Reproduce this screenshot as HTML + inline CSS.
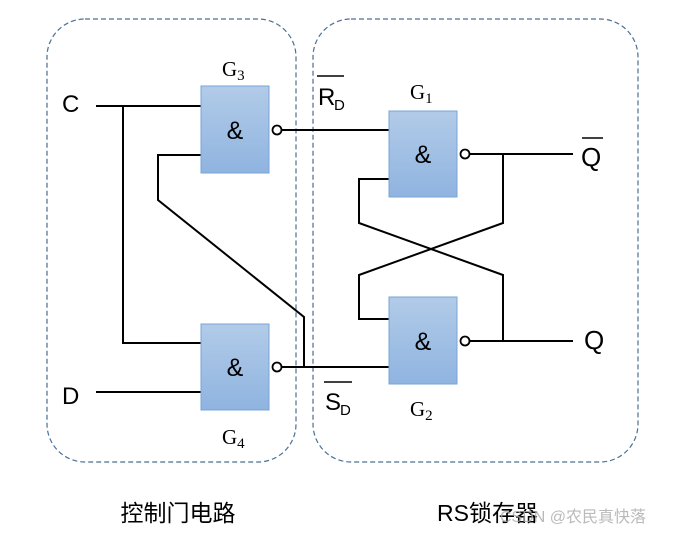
<!DOCTYPE html>
<html><head><meta charset="utf-8"><style>
html,body{margin:0;padding:0;background:#fff;}
svg{display:block;}
.s{font-family:"Liberation Sans","Noto Sans CJK SC",sans-serif;}
.g{font-family:"Liberation Serif",serif;font-size:21px;}
</style></head><body>
<svg width="677" height="536" viewBox="0 0 677 536" xmlns="http://www.w3.org/2000/svg">
<defs><linearGradient id="gr" x1="0" y1="0" x2="0" y2="1"><stop offset="0" stop-color="#b2cbe8"/><stop offset="1" stop-color="#8fb4e0"/></linearGradient></defs>
<rect x="47" y="19" width="249" height="443" rx="38" fill="none" stroke="#4a6f95" stroke-width="1.2" stroke-dasharray="5,3"/>
<rect x="313" y="19" width="325" height="443" rx="38" fill="none" stroke="#4a6f95" stroke-width="1.2" stroke-dasharray="5,3"/>
<g stroke="#000" stroke-width="2" fill="none">
<polyline points="96,106 201,106"/>
<polyline points="123,106 123,343 201,343"/>
<polyline points="201,155 158,155 158,200 304,317 304,367"/>
<polyline points="96,392 201,392"/>
<polyline points="281,130 389,130"/>
<polyline points="281,367 389,367"/>
<polyline points="389,179 359,179 359,223 503,275 503,341"/>
<polyline points="469,154 573,154"/>
<polyline points="503,154 503,223 359,275 359,319 389,319"/>
<polyline points="469,341 573,341"/>
</g>
<g fill="url(#gr)" stroke="#7aa3d6" stroke-width="1">
<rect x="201" y="86" width="68" height="87"/>
<rect x="201" y="324" width="68" height="86"/>
<rect x="389" y="111" width="68" height="86"/>
<rect x="389" y="297" width="68" height="87"/>
</g>
<g fill="#fff" stroke="#000" stroke-width="1.8">
<circle cx="277" cy="130" r="4.5"/><circle cx="277" cy="367" r="4.5"/>
<circle cx="465" cy="154" r="4.5"/><circle cx="465" cy="341" r="4.5"/>
</g>
<g class="s" font-size="25" text-anchor="middle">
<text x="235" y="139">&amp;</text><text x="235" y="376">&amp;</text>
<text x="423" y="163">&amp;</text><text x="423" y="350">&amp;</text>
</g>
<g class="s" font-size="24">
<text x="62" y="112">C</text><text x="62" y="404">D</text>
<text x="581" y="166" font-size="26">Q</text><line x1="582" y1="138" x2="603" y2="138" stroke="#000" stroke-width="1.6"/>
<text x="584" y="349" font-size="26">Q</text>
<text x="318" y="105">R</text><text x="334" y="110" font-size="15">D</text>
<line x1="317" y1="76" x2="344" y2="76" stroke="#000" stroke-width="1.6"/>
<text x="325" y="410">S</text><text x="340" y="415" font-size="15">D</text>
<line x1="324" y1="382" x2="352" y2="382" stroke="#000" stroke-width="1.6"/>
</g>
<text class="g" x="222" y="76">G<tspan font-size="15" dy="4">3</tspan></text>
<text class="g" x="222" y="444">G<tspan font-size="15" dy="4">4</tspan></text>
<text class="g" x="410" y="99">G<tspan font-size="15" dy="4">1</tspan></text>
<text class="g" x="410" y="416">G<tspan font-size="15" dy="4">2</tspan></text>
<text class="s" x="178" y="521" font-size="23" text-anchor="middle">控制门电路</text>
<text class="s" x="437" y="521" font-size="23">RS锁存器</text>
<text class="s" x="500" y="522" font-size="16" fill="#aaa" opacity="0.8">CSDN @农民真快落</text>
</svg>
</body></html>
